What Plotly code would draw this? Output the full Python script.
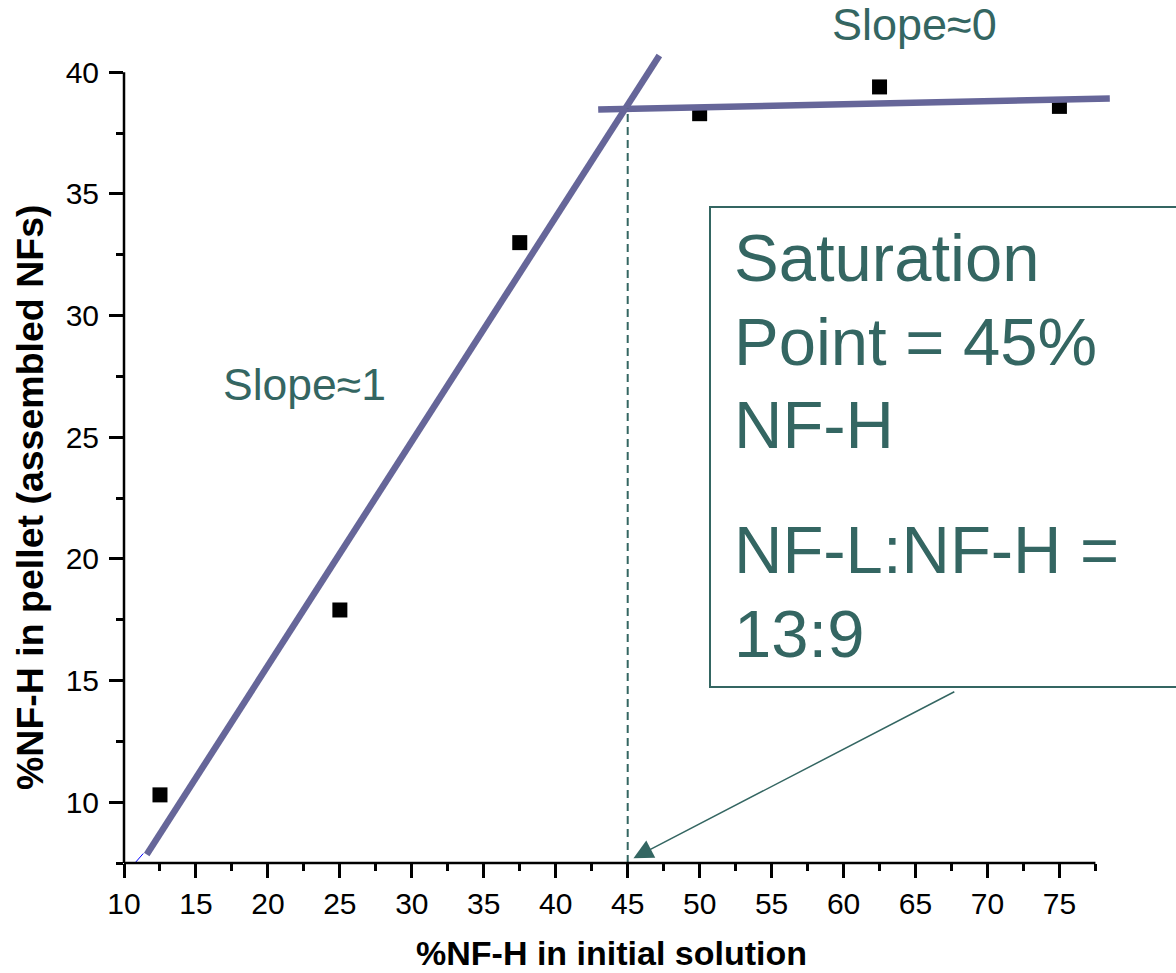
import plotly.graph_objects as go

# ---------------- data ----------------
x_pct = [12.5, 25, 37.5, 50, 62.5, 75]          # %NF-H in initial solution
y_pct = [10.3, 17.9, 33.0, 38.3, 39.4, 38.6]    # %NF-H in pellet

fit1_x = [11.58, 47.2]      # slope ~1 fit
fit1_y = [7.85, 40.69]
fit1_ext_x = [10.76, 11.34]  # thin continuation
fit1_ext_y = [7.5, 7.89]
fit2_x = [42.95, 78.5]      # slope ~0 fit
fit2_y = [38.47, 38.92]
sat_x = [45, 45]            # saturation point marker line
sat_y = [7.5, 38.5]

X_RANGE = [10, 79]
Y_RANGE = [7.5, 41]
X_AXIS_END = 77.5
Y_AXIS_END = 40

# ---------------- styles ----------------
FONT = "Arial, Liberation Sans, sans-serif"
TEAL = "#346662"
FIT = "#666699"

W, H = 1176, 973
ML, MR, MT, MB = 124, 59, 48, 110
PW, PH = W - ML - MR, H - MT - MB


def px(p):
    return (p - ML) / PW


def py(p):
    return (H - MB - p) / PH


fig = go.Figure()

fig.add_trace(go.Scatter(x=x_pct, y=y_pct, mode="markers",
                         marker=dict(symbol="square", size=15, color="black"),
                         showlegend=False))
fig.add_trace(go.Scatter(x=fit1_ext_x, y=fit1_ext_y, mode="lines",
                         line=dict(color="blue", width=1), showlegend=False))
fig.add_trace(go.Scatter(x=fit1_x, y=fit1_y, mode="lines",
                         line=dict(color=FIT, width=6.5), showlegend=False))
fig.add_trace(go.Scatter(x=fit2_x, y=fit2_y, mode="lines",
                         line=dict(color=FIT, width=6.5), showlegend=False))
fig.add_trace(go.Scatter(x=sat_x, y=sat_y, mode="lines",
                         line=dict(color=TEAL, width=2, dash="8px,5px"),
                         showlegend=False))

x_end_frac = (X_AXIS_END - X_RANGE[0]) / (X_RANGE[1] - X_RANGE[0])
y_end_frac = (Y_AXIS_END - Y_RANGE[0]) / (Y_RANGE[1] - Y_RANGE[0])

shapes = [
    dict(type="line", xref="x domain", yref="y domain", x0=0, x1=x_end_frac,
         y0=0, y1=0, line=dict(color="black", width=2.5)),
    dict(type="line", xref="x domain", yref="y domain", x0=0, x1=0,
         y0=0, y1=y_end_frac, line=dict(color="black", width=2.5)),
    dict(type="rect", xref="paper", yref="paper", x0=px(710), x1=px(1190),
         y0=py(687), y1=py(207), line=dict(color=TEAL, width=2),
         fillcolor="rgba(0,0,0,0)"),
]

ann = []


def text(t, x, y, size, color=TEAL, bold=False, angle=0, xanchor="left"):
    ann.append(dict(text=("<b>%s</b>" % t) if bold else t, xref="paper", yref="paper",
                    x=x, y=y, xanchor=xanchor, yanchor="middle", showarrow=False,
                    textangle=angle, font=dict(family=FONT, size=size, color=color)))


text("Slope≈1", px(221), py(387.5 - 3), 44.5)
text("Slope≈0", px(830), py(27.5 - 3), 45)
BOX = 67
text("Saturation", px(732), py(261.5 - 4), BOX)
text("Point = 45%", px(732), py(345 - 4), BOX)
text("NF-H", px(732), py(428 - 4), BOX)
text("NF-L:NF-H =", px(732), py(553 - 4), BOX)
text("13:9", px(732), py(637 - 4), BOX)
text("%NF-H in initial solution", px(611), py(953), 34, color="black",
     bold=True, xanchor="center")
text("%NF-H in pellet (assembled NFs)", px(30), py(497), 37.5, color="black",
     bold=True, angle=-90, xanchor="center")

# arrow from the box to the saturation point
ann.append(dict(x=45.4, y=7.7, xref="x", yref="y", ax=67.8, ay=14.57,
                axref="x", ayref="y", text="", showarrow=True, arrowhead=2,
                arrowsize=2.6, arrowwidth=1.5, arrowcolor=TEAL, standoff=0))

axis_common = dict(showgrid=False, zeroline=False, showline=False,
                   ticks="outside", ticklen=14, tickwidth=2.5, tickcolor="black",
                   tickfont=dict(family=FONT, size=30, color="black"),
                   tickmode="linear", tick0=10, dtick=5,
                   minor=dict(dtick=2.5, tick0=0, ticks="outside", ticklen=7,
                              tickwidth=2.5, tickcolor="black"))

fig.update_layout(
    width=W, height=H, autosize=False,
    margin=dict(l=ML, r=MR, t=MT, b=MB),
    paper_bgcolor="white", plot_bgcolor="white",
    font=dict(family=FONT),
    xaxis=dict(range=X_RANGE, **axis_common),
    yaxis=dict(range=Y_RANGE, ticklabelstandoff=4, **axis_common),
    shapes=shapes, annotations=ann, showlegend=False,
)

fig.write_html("out.html", config={"displayModeBar": False},
               post_script="document.body.style.margin='0';document.body.style.overflow='hidden';")
